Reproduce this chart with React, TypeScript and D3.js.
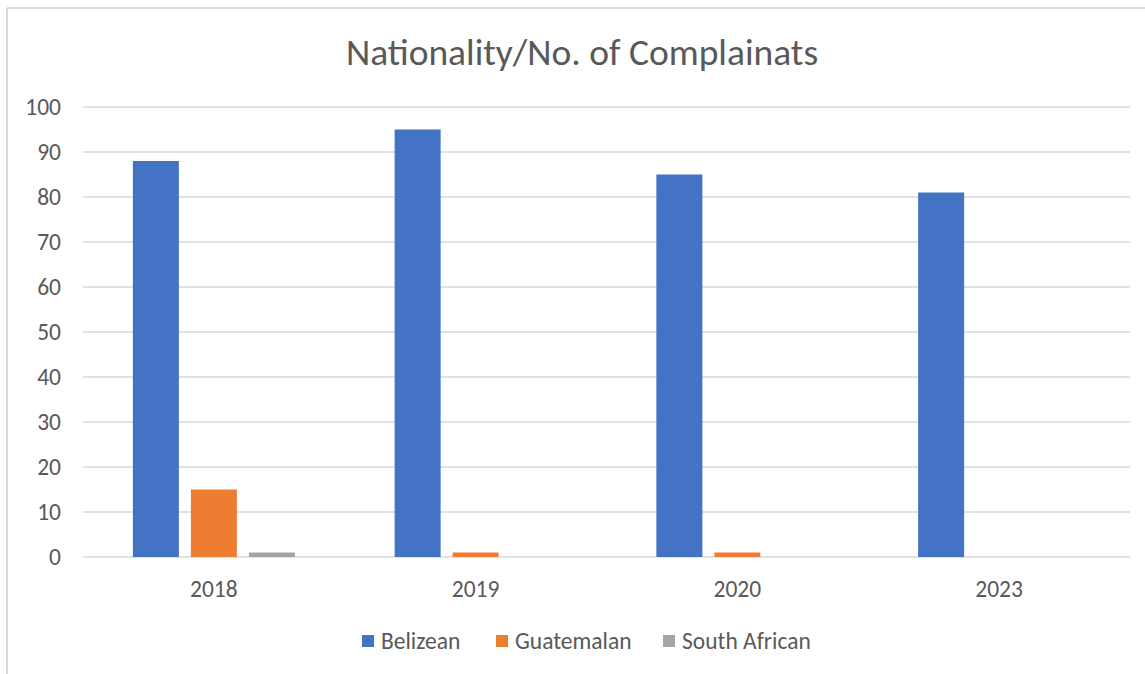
import React from "react";
import * as d3 from "d3";

const years = ["2018", "2019", "2020", "2023"];
const seriesNames = ["Belizean", "Guatemalan", "South African"];
const belizean = [88, 95, 85, 81];
const guatemalan = [15, 1, 1, 0];
const southAfrican = [1, 0, 0, 0];
const yTicks = [0, 10, 20, 30, 40, 50, 60, 70, 80, 90, 100];
const colors = ["#4472C4", "#ED7D31", "#A5A5A5"];

const W = 1145;
const H = 674;
const plot = { left: 83, right: 1130, top: 107, bottom: 557 };
const font = "Carlito, Calibri, 'Liberation Sans', 'Noto Sans', sans-serif";
const textColor = "#595959";
const labelSize = 23.5;

export default function App() {
  const series = [belizean, guatemalan, southAfrican];

  const x = d3.scaleBand<string>().domain(years).range([plot.left, plot.right]).padding(0);
  const y = d3.scaleLinear().domain([0, 100]).range([plot.bottom, plot.top]);

  const barW = 46;
  const barGap = 12;
  const groupW = series.length * barW + (series.length - 1) * barGap;
  const inner = d3
    .scaleBand<number>()
    .domain(series.map((_, i) => i))
    .range([0, groupW])
    .paddingInner(barGap / (barW + barGap));

  const legendItems = [
    { name: seriesNames[0], sx: 362 },
    { name: seriesNames[1], sx: 496 },
    { name: seriesNames[2], sx: 663 },
  ];

  return (
    <svg
      width={W}
      height={H}
      style={{ position: "fixed", left: 0, top: 0, background: "#fff" }}
      fontFamily={font}
    >
      <rect x={0} y={0} width={W} height={H} fill="#fff" />
      {/* chart frame */}
      <line x1={7} y1={8} x2={W} y2={8} stroke="#d9d9d9" strokeWidth={2} />
      <line x1={7} y1={8} x2={7} y2={H} stroke="#d9d9d9" strokeWidth={2} />

      <text x={582} y={65} textAnchor="middle" fontSize={37.5} fill={textColor}>
        Nationality/No. of Complainats
      </text>

      {yTicks.map((t) => (
        <g key={t}>
          <line x1={plot.left} x2={plot.right} y1={y(t)} y2={y(t)} stroke="#d9d9d9" strokeWidth={1.5} />
          <text x={61} y={y(t)} dy="0.35em" textAnchor="end" fontSize={labelSize} fill={textColor}>
            {t}
          </text>
        </g>
      ))}

      {years.map((yr, ci) => {
        const cx = (x(yr) as number) + x.bandwidth() / 2;
        const gx = cx - groupW / 2;
        return (
          <g key={yr}>
            {series.map((s, si) =>
              s[ci] > 0 ? (
                <rect
                  key={si}
                  x={gx + (inner(si) as number)}
                  y={y(s[ci])}
                  width={inner.bandwidth()}
                  height={y(0) - y(s[ci])}
                  fill={colors[si]}
                />
              ) : null
            )}
            <text x={cx} y={589} dy="0.35em" textAnchor="middle" fontSize={labelSize} fill={textColor}>
              {yr}
            </text>
          </g>
        );
      })}

      {legendItems.map((it, i) => (
        <g key={it.name}>
          <rect x={it.sx} y={635} width={12} height={12} fill={colors[i]} />
          <text x={it.sx + 19} y={641} dy="0.35em" fontSize={labelSize} fill={textColor}>
            {it.name}
          </text>
        </g>
      ))}
    </svg>
  );
}
